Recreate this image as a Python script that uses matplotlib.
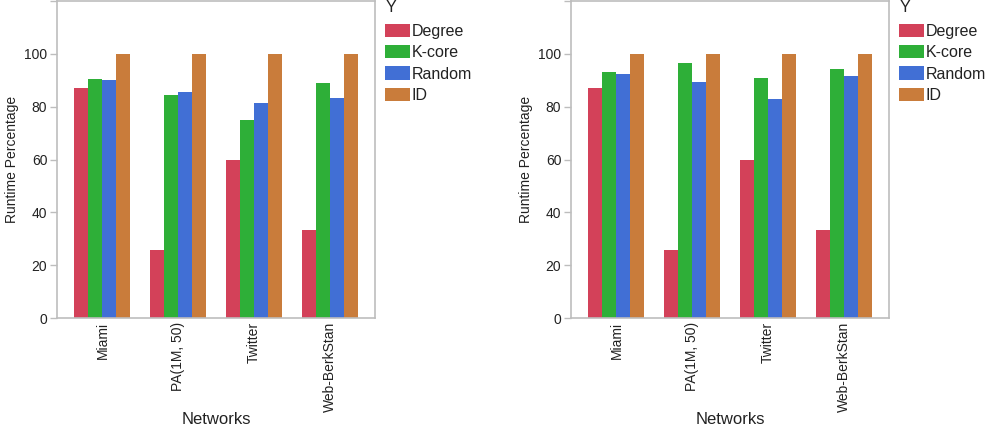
import matplotlib
matplotlib.use("Agg")
import matplotlib.pyplot as plt
import numpy as np
from matplotlib.patches import Patch

plt.rcParams['font.family'] = ['Liberation Sans', 'DejaVu Sans']

networks = ["Miami", "PA(1M, 50)", "Twitter", "Web-BerkStan"]
series = ["Degree", "K-core", "Random", "ID"]
colors = ["#d34159", "#2eaf38", "#416fd5", "#c97c3b"]

left_degree = [87.0, 25.8, 59.8, 33.4]
left_kcore = [90.5, 84.4, 74.9, 88.9]
left_random = [90.1, 85.5, 81.3, 83.2]
left_id = [100, 100, 100, 100]

right_degree = [87.0, 25.8, 59.8, 33.4]
right_kcore = [93.1, 96.5, 90.8, 94.2]
right_random = [92.4, 89.3, 82.9, 91.6]
right_id = [100, 100, 100, 100]

yticks = [0, 20, 40, 60, 80, 100, 120]
ytick_labels = ["0", "20", "40", "60", "80", "100", ""]

W, H = 996, 434
fig = plt.figure(figsize=(W / 100, H / 100), dpi=100)
spine_col = "#bdbdbd"
text_col = "#222222"


def draw(ax, data):
    x = np.arange(len(networks))
    w = 0.185
    for i, (vals, c) in enumerate(zip(data, colors)):
        ax.bar(x + (i - 1.5) * w, vals, width=w, color=c, linewidth=0)
    ax.set_xlim(-0.6, 3.6)
    ax.set_ylim(0, 120)
    ax.set_yticks(yticks)
    ax.set_yticklabels(ytick_labels, fontsize=10, color=text_col)
    ax.set_xticks(x)
    ax.set_xticklabels(networks, rotation=90, fontsize=10, color=text_col)
    ax.tick_params(axis='y', length=5, color=spine_col, width=1, pad=2)
    ax.tick_params(axis='x', length=0, pad=3)
    for s in ax.spines.values():
        s.set_color(spine_col)
        s.set_linewidth(1.2)
    ax.set_xlabel("Networks", fontsize=12, color=text_col, va="center")
    ax.xaxis.set_label_coords(0.5, -102 / 317)
    ax.set_ylabel("Runtime Percentage", fontsize=10, color=text_col, labelpad=4)

    # legend placed to the right of the plot area
    x0 = ax.get_position().x1 + 11 / W
    fig.text(x0, 1 - 8 / H, "Y", fontsize=11.5, color=text_col,
             ha="left", va="center")
    handles = [Patch(facecolor=c, edgecolor='none') for c in colors]
    leg = fig.legend(handles, series, loc="upper left",
                     bbox_to_anchor=(x0 - 1 / W, 1 - 24 / H), frameon=False,
                     fontsize=11.5, handlelength=1.55, handleheight=0.9,
                     handletextpad=0.12, labelspacing=0.38,
                     borderaxespad=0.0, borderpad=0.0)
    for t in leg.get_texts():
        t.set_color(text_col)


ax1 = fig.add_axes([57 / W, 116 / H, 318 / W, 317 / H])
draw(ax1, [left_degree, left_kcore, left_random, left_id])
ax2 = fig.add_axes([571 / W, 116 / H, 318 / W, 317 / H])
draw(ax2, [right_degree, right_kcore, right_random, right_id])

fig.savefig("out.png", dpi=100)
